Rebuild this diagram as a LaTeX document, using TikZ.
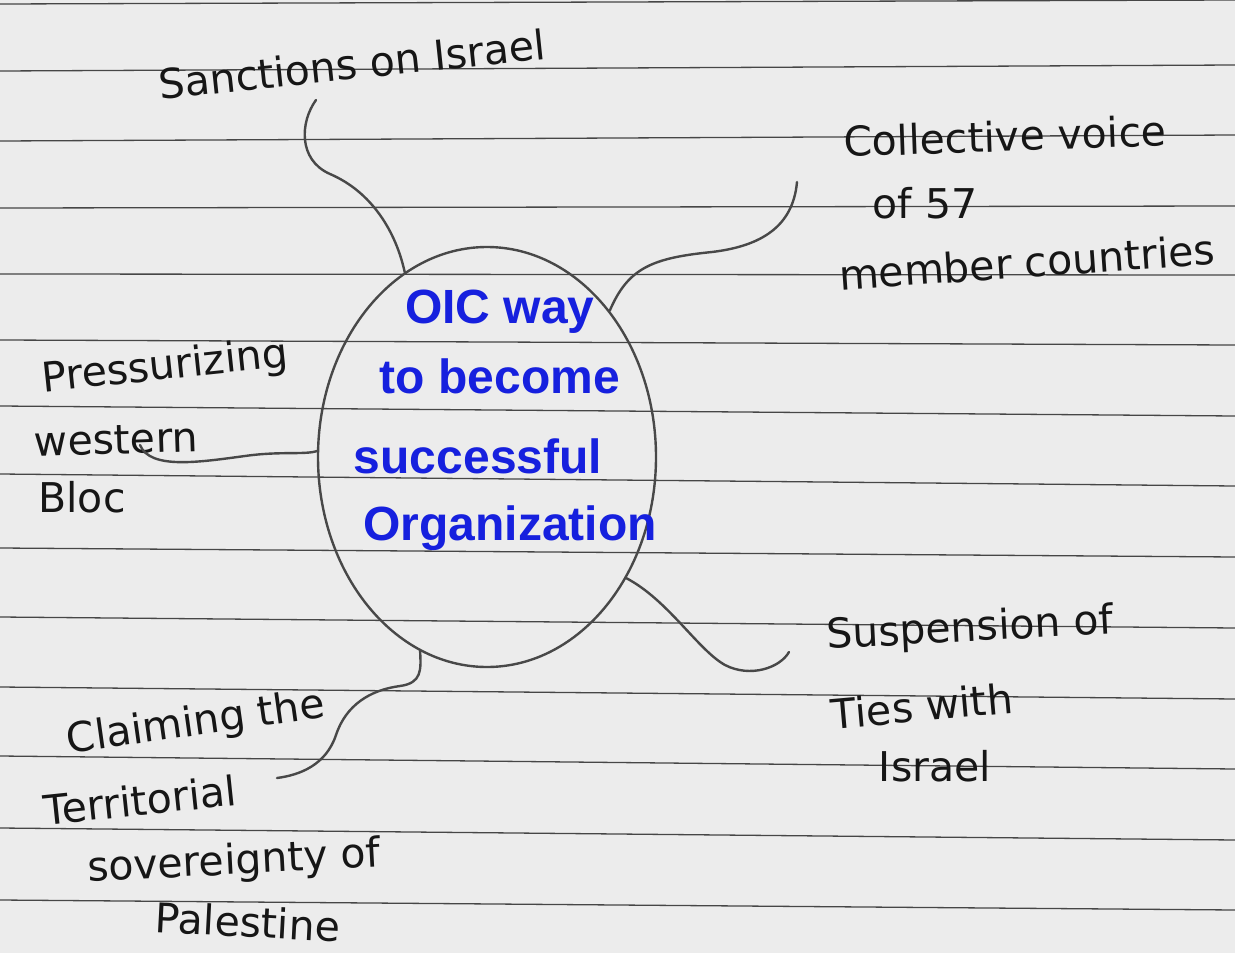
\documentclass[tikz,border=0pt]{standalone}
\usepackage{fontspec}
\setmainfont{DejaVu Sans}
\newfontfamily\markerfont{Liberation Sans}
\usetikzlibrary{shapes.geometric}
\definecolor{paper}{RGB}{236,236,236}
\definecolor{ruling}{RGB}{70,70,70}
\definecolor{pencil}{RGB}{72,72,72}
\definecolor{ink}{RGB}{22,22,22}
\definecolor{marker}{RGB}{22,32,222}
\tikzset{
  rule/.style={draw=ruling, line width=1.3pt},
  branch/.style={draw=pencil, line width=2.4pt, line cap=round},
  hubshape/.style={ellipse, draw=pencil, line width=2.4pt, minimum width=338pt, minimum height=420pt, inner sep=0pt},
  title/.style={text=marker, font=\markerfont\bfseries\fontsize{48}{56}\selectfont, anchor=base, inner sep=0pt},
  label/.style={text=ink, font=\fontsize{41}{47}\selectfont, inner sep=0pt}
}
\begin{document}
\begin{tikzpicture}[x=1pt,y=-1pt]
  % page
  \fill[paper] (0,0) rectangle (1235,953);
  \useasboundingbox (0,0) rectangle (1235,953);
  % ruled lines of the notebook page
  \foreach \l/\r in {4/0,71/65,141/135,208/206,274/275,340/345,406/416,474/486,548/557,617/628,687/699,756/769,828/840,900/910}
    \draw[rule] (0,\l) -- (1235,\r);

  % central oval and its title
  \node[hubshape] (hub) at (487,457) {};
  \node[title] (t1) at (500,323) {OIC way};
  \node[title] (t2) at (500,393) {to become};
  \node[title] (t3) at (478,473) {successful};
  \node[title] (t4) at (510,540) {Organization};

  % branch labels
  \node[label, rotate=6] (sanctions) at (352,64) {Sanctions on Israel};

  \node[label, rotate=2] (coll1) at (1005,136) {Collective voice};
  \node[label] (coll2) at (925,203) {of 57};
  \node[label, rotate=4] (coll3) at (1027,262) {member countries};

  \node[label, rotate=6] (press1) at (165,368) {Pressurizing};
  \node[label, rotate=2] (press2) at (116,440) {western};
  \node[label] (press3) at (82,497) {Bloc};

  \node[label, rotate=8] (claim1) at (196,724) {Claiming the};
  \node[label, rotate=6] (claim2) at (140,800) {Territorial};
  \node[label, rotate=3] (claim3) at (234,863) {sovereignty of};
  \node[label, rotate=-3] (claim4) at (248,922) {Palestine};

  \node[label, rotate=3] (susp1) at (970,630) {Suspension of};
  \node[label, rotate=5] (susp2) at (922,706) {Ties with};
  \node[label] (susp3) at (935,766) {Israel};

  % free ends of the branches
  \coordinate (sEnd) at (316,100);
  \coordinate (cEnd) at (797,182);
  \coordinate (pEnd) at (140,445);
  \coordinate (lEnd) at (277,778);
  \coordinate (uEnd) at (789,652);

  % branches
  \draw[branch] (sEnd) .. controls (300,122) and (298,160) .. (330,174)
                       .. controls (372,192) and (396,232) .. (hub.114);
  \draw[branch] (cEnd) .. controls (793,226) and (762,246) .. (712,252)
                       .. controls (652,258) and (628,268) .. (hub.50);
  \draw[branch] (pEnd) .. controls (150,470) and (200,462) .. (245,456)
                       .. controls (280,451) and (305,455) .. (hub.178);
  \draw[branch] (hub.251) .. controls (421,670) and (422,683) .. (400,686)
                          .. controls (370,690) and (346,705) .. (336,735)
                          .. controls (326,765) and (300,775) .. (lEnd);
  \draw[branch] (hub.-41) .. controls (668,600) and (698,650) .. (725,665)
                          .. controls (750,678) and (780,668) .. (uEnd);
\end{tikzpicture}
\end{document}
